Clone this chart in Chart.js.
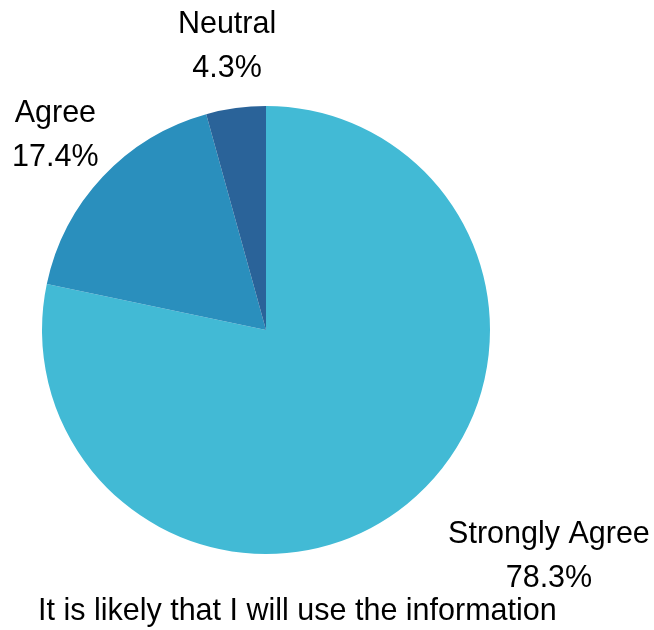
<!DOCTYPE html>
<html lang="en">
<head>
  <meta charset="UTF-8" />
  <title>It is likely that I will use the information</title>
  <script src="https://cdn.jsdelivr.net/npm/chart.js"></script>
  <style>
    html, body { margin: 0; padding: 0; background: #fff; }
    #wrap { width: 654px; height: 630px; }
  </style>
</head>
<body>
  <div id="wrap"><canvas id="pieChart" width="654" height="630"></canvas></div>
  <script>
    const categories = ['Strongly Agree', 'Agree', 'Neutral'];
    const percentages = [78.3, 17.4, 4.3];
    const sliceColors = ['#42bad5', '#2a8fbd', '#2a6399'];
    const chartTitle = 'It is likely that I will use the information';

    const FONT = '30.5px "Liberation Sans", Arial, sans-serif';

    // labels sit outside each slice, two lines: name and percent
    const outsideLabels = {
      id: 'outsideLabels',
      afterDraw(chart) {
        const ctx = chart.ctx;
        const arcs = chart.getDatasetMeta(0).data;
        ctx.save();
        ctx.font = FONT;
        ctx.fillStyle = '#000';
        ctx.textBaseline = 'middle';
        arcs.forEach((arc, i) => {
          const mid = (arc.startAngle + arc.endAngle) / 2;
          const r = arc.outerRadius * 1.29;
          const x = arc.x + Math.cos(mid) * r;
          const y = arc.y + Math.sin(mid) * r;
          const onRight = Math.cos(mid) > 0.3;
          ctx.textAlign = onRight ? 'left' : 'center';
          if (onRight) {
            const w = ctx.measureText(categories[i]).width;
            ctx.fillText(categories[i], x, y - 20);
            ctx.textAlign = 'center';
            ctx.fillText(percentages[i].toFixed(1) + '%', x + w / 2, y + 24);
          } else {
            ctx.fillText(categories[i], x, y - 19);
            ctx.fillText(percentages[i].toFixed(1) + '%', x, y + 25);
          }
        });
        ctx.textAlign = 'left';
        ctx.fillText(chartTitle, 38, 612);
        ctx.restore();
      }
    };

    new Chart(document.getElementById('pieChart'), {
      type: 'pie',
      data: {
        labels: categories,
        datasets: [{
          data: percentages,
          backgroundColor: sliceColors,
          borderWidth: 0
        }]
      },
      options: {
        responsive: false,
        animation: false,
        layout: { padding: { left: 42, top: 106, right: 164, bottom: 76 } },
        plugins: {
          legend: { display: false },
          tooltip: { enabled: false },
          title: { display: false }
        }
      },
      plugins: [outsideLabels]
    });
  </script>
</body>
</html>
